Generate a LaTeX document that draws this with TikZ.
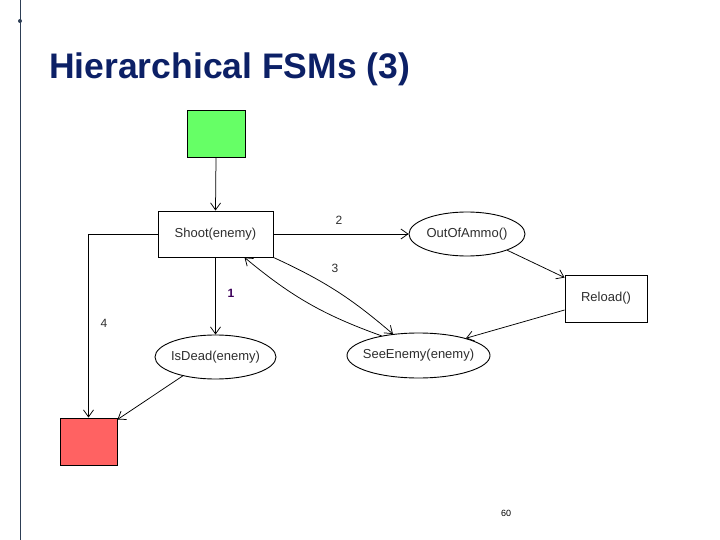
\documentclass[tikz,border=0pt]{standalone}
\usepackage{fontspec}
\setmainfont{Liberation Sans}
\usetikzlibrary{arrows.meta,shapes.geometric}
\definecolor{titleblue}{RGB}{12,32,102}
\definecolor{rulecol}{RGB}{45,62,85}
\definecolor{greenfill}{RGB}{102,255,102}
\definecolor{redfill}{RGB}{255,98,98}
\definecolor{txt}{RGB}{45,45,45}
\definecolor{purplelab}{RGB}{60,0,90}
\newcommand{\ztext}[1]{\makebox[0pt]{#1}}
\tikzset{
  box/.style={draw=black, line width=0.9pt, rectangle, inner sep=0pt, font=\fontsize{13}{15}\selectfont, text=txt},
  oval/.style={draw=black, line width=0.9pt, ellipse, inner sep=0pt, font=\fontsize{13}{15}\selectfont, text=txt},
  conn/.style={draw=black, line width=0.75pt, -{Straight Barb[length=7pt,width=10pt,line width=0.75pt]}},
  lab/.style={font=\fontsize{12}{14}\selectfont, text=txt, inner sep=0pt}
}
\begin{document}
\begin{tikzpicture}[x=1pt,y=-1pt]
\useasboundingbox (0,0) rectangle (720,540);
% slide decoration
\draw[rulecol, line width=1pt] (20,0) coordinate (rtop) -- (20,540) coordinate (rbot);
\fill[rulecol] (20,21) circle (2pt);
\node[anchor=base west, inner sep=0pt, text=titleblue, font=\fontsize{35.5}{40}\selectfont\bfseries] (title) at (49,79) {Hierarchical FSMs (3)};
% nodes
\node[box, fill=greenfill, minimum width=58pt, minimum height=47pt] (start) at (216,133.5) {};
\node[box, minimum width=115pt, minimum height=46pt] (shoot) at (215.5,234) {Shoot(enemy)};
\node[oval, minimum width=116pt, minimum height=44pt] (ooa) at (467,234) {\ztext{OutOfAmmo()}};
\node[box, minimum width=82pt, minimum height=47pt] (reload) at (606,298.5) {Reload()};
\node[oval, minimum width=143pt, minimum height=45pt] (see) at (418.5,355.5) {\ztext{SeeEnemy(enemy)}};
\node[oval, minimum width=121pt, minimum height=44pt] (dead) at (215.5,357) {\ztext{IsDead(enemy)}};
\node[box, fill=redfill, minimum width=57pt, minimum height=47pt] (stop) at (88.5,441.5) {};
% connectors
\draw[conn] (start.south) -- (shoot.north);
\draw[conn] (shoot.east) -- (ooa.west);
\draw[conn] (ooa.-22) -- ([yshift=-3pt]reload.north west);
\draw[conn] ([yshift=-11.5pt]reload.west) -- (see.20);
\draw[conn] (shoot.south east) to[bend left=8] (see.140);
\draw[conn] (see.152) to[bend left=10] ([xshift=29pt]shoot.south);
\draw[conn] (shoot.south) -- (dead.north);
\draw[conn] (shoot.west) -| (stop.north);
\draw[conn] (dead.-150) -- ([yshift=-2pt]stop.north east);
% labels
\node[lab] (l2) at (339,220) {2};
\node[lab] (l3) at (335,268) {3};
\node[lab, text=purplelab, font=\fontsize{12}{14}\selectfont\bfseries] (l1) at (231,293) {1};
\node[lab] (l4) at (104,323) {4};
\node[lab, font=\fontsize{9}{11}\selectfont, text=black] (page) at (506,513) {60};
\end{tikzpicture}
\end{document}
